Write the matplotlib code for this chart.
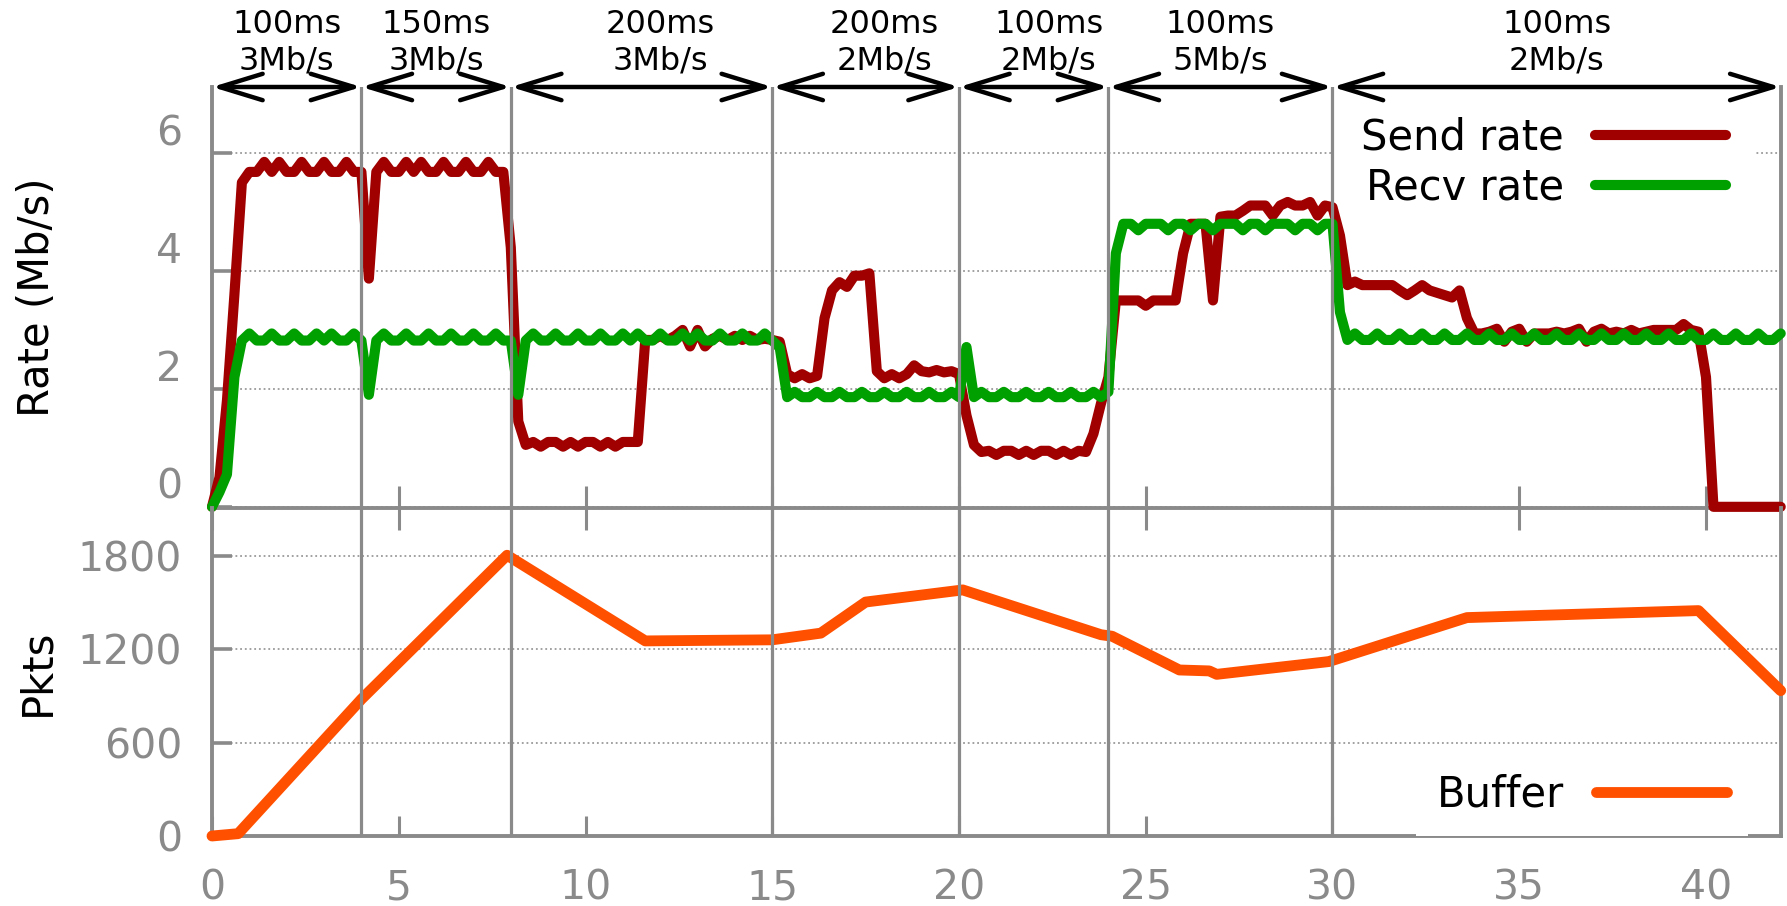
import numpy as np
import matplotlib
matplotlib.use("Agg")
import matplotlib.pyplot as plt
from matplotlib.transforms import ScaledTranslation

# ---------------- data ----------------
# rate samples every 0.2 s from 0 to 42 s
t = np.round(np.arange(211) * 0.2, 1)

send_rate = [
    0.0, 0.5, 1.8, 3.6, 5.5, 5.68, 5.68, 5.85, 5.68, 5.85,
    5.68, 5.68, 5.85, 5.68, 5.68, 5.85, 5.68, 5.68, 5.85, 5.68,
    5.68, 3.87, 5.68, 5.85, 5.68, 5.68, 5.85, 5.68, 5.85, 5.68,
    5.68, 5.85, 5.68, 5.68, 5.85, 5.68, 5.68, 5.85, 5.68, 5.68,
    4.4, 1.45, 1.05, 1.10, 1.02, 1.10, 1.10, 1.02, 1.10, 1.02,
    1.10, 1.10, 1.02, 1.10, 1.02, 1.10, 1.10, 1.10, 2.83, 2.83,
    2.90, 2.83, 2.90, 3.00, 2.72, 3.00, 2.72, 2.85, 2.90, 2.83,
    2.90, 2.83, 2.90, 2.83, 2.85, 2.83, 2.80, 2.25, 2.18, 2.25,
    2.18, 2.22, 3.20, 3.67, 3.81, 3.73, 3.92, 3.92, 3.96, 2.30,
    2.18, 2.25, 2.18, 2.25, 2.40, 2.30, 2.28, 2.32, 2.28, 2.30,
    2.25, 1.55, 1.05, 0.93, 0.95, 0.88, 0.95, 0.95, 0.88, 0.95,
    0.88, 0.95, 0.95, 0.88, 0.95, 0.88, 0.95, 0.93, 1.24, 1.75,
    2.20, 3.50, 3.50, 3.50, 3.50, 3.41, 3.50, 3.50, 3.50, 3.50,
    4.30, 4.80, 4.80, 4.80, 3.50, 4.92, 4.94, 4.94, 5.02, 5.11,
    5.11, 5.11, 4.94, 5.11, 5.17, 5.11, 5.11, 5.17, 4.94, 5.11,
    5.08, 4.60, 3.76, 3.82, 3.76, 3.76, 3.76, 3.76, 3.76, 3.67,
    3.59, 3.67, 3.76, 3.67, 3.63, 3.59, 3.55, 3.67, 3.20, 2.94,
    2.94, 2.97, 3.02, 2.80, 2.97, 3.02, 2.80, 2.94, 2.94, 2.94,
    2.97, 2.94, 2.97, 3.02, 2.80, 2.97, 3.02, 2.94, 2.97, 2.94,
    3.00, 2.94, 2.97, 3.00, 3.00, 3.00, 3.00, 3.10, 3.00, 2.97,
    2.20, 0.0, 0.0, 0.0, 0.0, 0.0, 0.0, 0.0, 0.0, 0.0,
    0.0,
]

recv_rate = [
    0.0, 0.25, 0.55, 2.2, 2.82, 2.94, 2.82, 2.82, 2.94, 2.82,
    2.82, 2.94, 2.82, 2.82, 2.94, 2.82, 2.94, 2.82, 2.82, 2.94,
    2.82, 1.90, 2.82, 2.94, 2.82, 2.82, 2.94, 2.82, 2.82, 2.94,
    2.82, 2.82, 2.94, 2.82, 2.82, 2.94, 2.82, 2.82, 2.94, 2.82,
    2.82, 1.90, 2.82, 2.94, 2.82, 2.82, 2.94, 2.82, 2.82, 2.94,
    2.82, 2.82, 2.94, 2.82, 2.82, 2.94, 2.82, 2.94, 2.82, 2.82,
    2.94, 2.82, 2.82, 2.94, 2.82, 2.94, 2.82, 2.82, 2.94, 2.82,
    2.82, 2.94, 2.82, 2.82, 2.94, 2.82, 2.70, 1.86, 1.95, 1.86,
    1.86, 1.95, 1.86, 1.86, 1.95, 1.86, 1.86, 1.95, 1.86, 1.86,
    1.95, 1.86, 1.86, 1.95, 1.86, 1.86, 1.95, 1.86, 1.86, 1.95,
    1.86, 2.71, 1.86, 1.95, 1.86, 1.86, 1.95, 1.86, 1.86, 1.95,
    1.86, 1.86, 1.95, 1.86, 1.86, 1.95, 1.86, 1.86, 1.95, 1.86,
    1.95, 4.30, 4.80, 4.80, 4.69, 4.80, 4.80, 4.80, 4.69, 4.80,
    4.80, 4.69, 4.80, 4.80, 4.69, 4.80, 4.80, 4.80, 4.69, 4.80,
    4.80, 4.69, 4.80, 4.80, 4.80, 4.69, 4.80, 4.80, 4.69, 4.80,
    4.80, 3.30, 2.83, 2.94, 2.83, 2.83, 2.94, 2.83, 2.83, 2.94,
    2.83, 2.83, 2.94, 2.83, 2.83, 2.94, 2.83, 2.83, 2.94, 2.83,
    2.83, 2.94, 2.83, 2.83, 2.94, 2.83, 2.83, 2.94, 2.83, 2.83,
    2.94, 2.83, 2.83, 2.94, 2.83, 2.83, 2.94, 2.83, 2.83, 2.94,
    2.83, 2.83, 2.94, 2.83, 2.83, 2.94, 2.83, 2.83, 2.94, 2.83,
    2.83, 2.94, 2.83, 2.83, 2.94, 2.83, 2.83, 2.94, 2.83, 2.83,
    2.94,
]

buf_t = [0, 0.7, 4.0, 7.9, 11.6, 15.0, 16.3, 17.5, 20.1, 23.8, 24.1,
         25.9, 26.7, 26.9, 29.9, 33.6, 39.8, 42.0]
buf_pkts = [0, 15, 880, 1806, 1255, 1262, 1305, 1505, 1583, 1295, 1285,
            1068, 1062, 1040, 1122, 1405, 1450, 935]

phase_bounds = [0, 4, 8, 15, 20, 24, 30, 42]
phase_delay = ["100ms", "150ms", "200ms", "200ms", "100ms", "100ms", "100ms"]
phase_bw = ["3Mb/s", "3Mb/s", "3Mb/s", "2Mb/s", "2Mb/s", "5Mb/s", "2Mb/s"]
phase_label_x = [2, 6, 12, 18, 22.4, 27, 36]

x_ticks = [0, 5, 10, 15, 20, 25, 30, 35, 40]
rate_ticks = [0, 2, 4, 6]
pkt_ticks = [0, 600, 1200, 1800]

# ---------------- style ----------------
plt.rcParams["font.family"] = ["DejaVu Sans"]
GRAY = "#8a8a8a"
GRID = "#9a9a9a"
RED = "#a00000"
GREEN = "#00a000"
ORANGE = "#ff5000"
LW = 7.3

W, H = 1787, 906
fig = plt.figure(figsize=(W / 100, H / 100), dpi=100)


def box(l, tp, r, b):
    return [l / W, 1 - b / H, (r - l) / W, (b - tp) / H]


ax1 = fig.add_axes(box(212, 87, 1780.7, 508))
ax2 = fig.add_axes(box(212, 508, 1780.7, 836))
ax2.patch.set_visible(False)

for ax in (ax1, ax2):
    for s in ax.spines.values():
        s.set_color(GRAY)
        s.set_linewidth(2.8)
    ax.spines["top"].set_visible(False)
    ax.set_xlim(0, 42)
    ax.set_axisbelow(True)
    ax.yaxis.grid(True, color=GRID, lw=1.3, linestyle=(0, (1, 1.6)))
    for b in phase_bounds[1:-1]:
        ax.axvline(b, color=GRAY, lw=2.3, zorder=6)

# ---- top panel: rates ----
ax1.plot(t, send_rate, color=RED, lw=LW, solid_capstyle="round",
         solid_joinstyle="round", label="Send rate", zorder=3, clip_on=False)
ax1.plot(t, recv_rate, color=GREEN, lw=LW, solid_capstyle="round",
         solid_joinstyle="round", label="Recv rate", zorder=4, clip_on=False)
ax1.set_ylim(-0.02, 7.12)
ax1.set_xticks(x_ticks)
ax1.set_yticks(rate_ticks)
ax1.set_yticklabels([str(v) for v in rate_ticks])
ax1.tick_params(axis="x", direction="inout", length=31, width=2.2,
                color=GRAY, labelbottom=False)
ax1.tick_params(axis="y", direction="in", length=14.5, width=2.6,
                color=GRAY, labelsize=29.5, labelcolor=GRAY, pad=21.5)
ax1.set_ylabel("Rate (Mb/s)", fontsize=30)
ax1.yaxis.set_label_coords(-0.098, 0.5)

leg1 = ax1.legend(loc="upper right", bbox_to_anchor=(0.984, 1.0),
                  fontsize=30, markerfirst=False, handlelength=3.15,
                  handletextpad=0.75, labelspacing=0.2, borderpad=0.7,
                  borderaxespad=0, frameon=True, facecolor="white",
                  edgecolor="none", framealpha=1, fancybox=False)
leg1.set_zorder(2.5)

# header arrows and phase labels
xt = ax1.get_xaxis_transform()
for i in range(len(phase_delay)):
    x0, x1 = phase_bounds[i], phase_bounds[i + 1]
    ax1.annotate("", xy=(x1, 1.0), xytext=(x0, 1.0),
                 xycoords=xt, textcoords=xt, annotation_clip=False,
                 arrowprops=dict(arrowstyle="<->,head_length=31,head_width=9.5",
                                 mutation_scale=1, lw=3.2, color="black",
                                 shrinkA=0, shrinkB=0))
    ax1.text(phase_label_x[i], 1.1276, phase_delay[i], transform=xt,
             ha="center", va="baseline", fontsize=23, clip_on=False)
    ax1.text(phase_label_x[i], 1.0404, phase_bw[i], transform=xt,
             ha="center", va="baseline", fontsize=23, clip_on=False)

# ---- bottom panel: buffer ----
ax2.plot(buf_t, buf_pkts, color=ORANGE, lw=LW + 0.5, solid_capstyle="round",
         solid_joinstyle="round", label="Buffer", zorder=3, clip_on=False)
ax2.set_ylim(0, 2110)
ax2.set_xticks(x_ticks)
ax2.set_xticklabels([str(v) for v in x_ticks])
ax2.set_yticks(pkt_ticks)
ax2.set_yticklabels([str(v) for v in pkt_ticks])
ax2.tick_params(axis="x", direction="in", length=14.5, width=2.2,
                color=GRAY, labelsize=29.5, labelcolor=GRAY, pad=23.5)
ax2.tick_params(axis="y", direction="in", length=14.5, width=2.6,
                color=GRAY, labelsize=29.5, labelcolor=GRAY, pad=21.5)
ax2.set_ylabel("Pkts", fontsize=30)
ax2.yaxis.set_label_coords(-0.098, 0.5)

leg2 = ax2.legend(loc="lower right", bbox_to_anchor=(0.979, 0.0),
                  fontsize=30, markerfirst=False, handlelength=3.15,
                  handletextpad=0.75, borderpad=0.5, borderaxespad=0,
                  frameon=True, facecolor="white", edgecolor="none",
                  framealpha=1, fancybox=False)
leg2.set_zorder(2.5)

# rate tick labels sit slightly above their ticks
offset = ScaledTranslation(0, 0.235, fig.dpi_scale_trans)
for lab in ax1.get_yticklabels():
    lab.set_transform(lab.get_transform() + offset)

fig.savefig("out.png", dpi=100, facecolor="white")
